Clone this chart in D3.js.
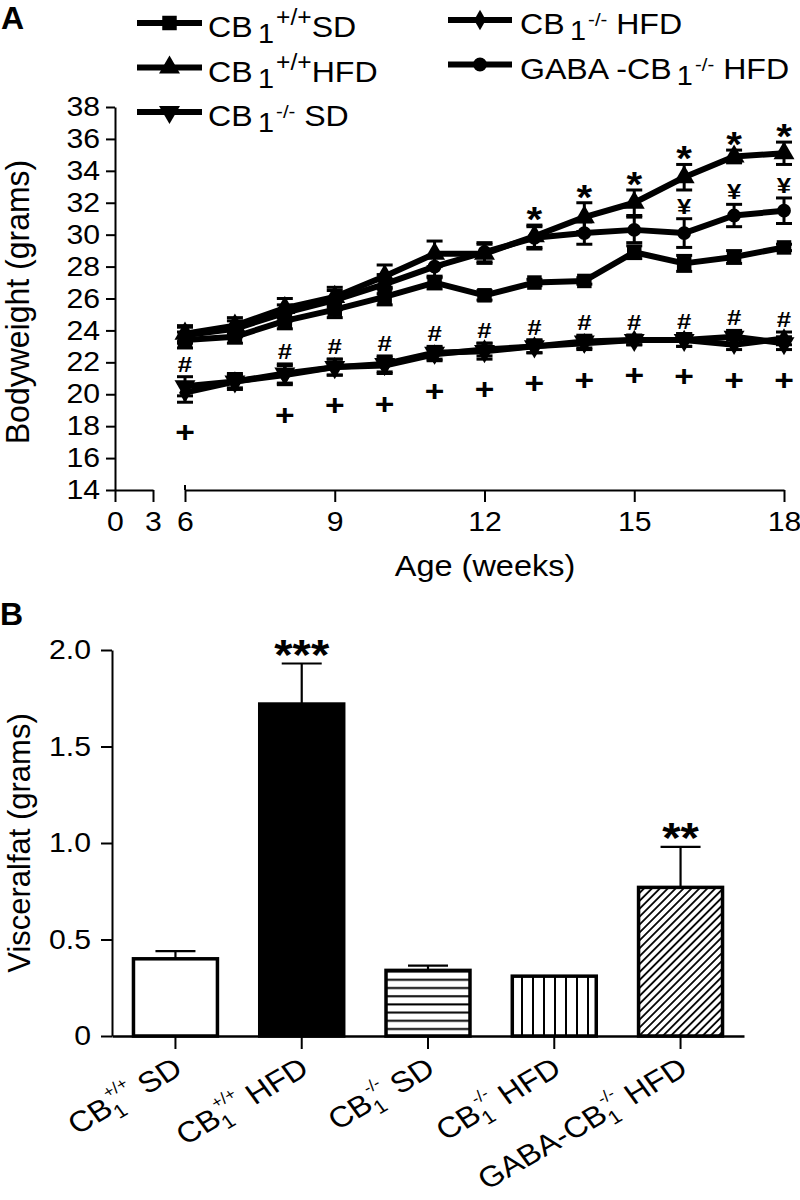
<!DOCTYPE html>
<html><head><meta charset="utf-8">
<script src="https://cdn.jsdelivr.net/npm/d3@7/dist/d3.min.js"></script>
<style>
html,body{margin:0;padding:0;background:#fff;}
svg text{font-family:Arial,"Liberation Sans",Helvetica,sans-serif;fill:#000;}
</style></head><body>
<svg id="chart" width="800" height="1200"></svg>
<script>
// ---------------- Panel A data ----------------
const weeks = [6,7,8,9,10,11,12,13,14,15,16,17,18];
const breakTicks = [0,3];
const mainTicks = [6,9,12,15,18];
const bodyTicks = [14,16,18,20,22,24,26,28,30,32,34,36,38];

const wtSD      = [23.4,23.6,24.6,25.3,26.1,27.0,26.2,27.0,27.1,28.9,28.2,28.6,29.2];
const wtSDErr   = [0.5,0.4,0.5,0.5,0.5,0.4,0.3,0.2,0.2,0.4,0.5,0.4,0.2];
const wtHFD     = [23.8,24.3,25.4,26.1,27.4,28.8,28.8,29.9,31.1,32.0,33.6,34.9,35.1];
const wtHFDErr  = [0.5,0.5,0.6,0.6,0.7,0.8,0.6,0.7,0.9,0.8,0.8,0.4,0.7];
const koSD      = [20.5,20.8,21.3,21.7,21.9,22.6,22.7,23.0,23.3,23.4,23.4,23.6,23.2];
const koSDErr   = [0.6,0.5,0.6,0.5,0.5,0.4,0.5,0.4,0.4,0.3,0.4,0.4,0.4];
const koHFD     = [20.1,20.8,21.2,21.7,21.8,22.5,22.8,23.0,23.2,23.4,23.4,23.1,23.5];
const koHFDErr  = [0.6,0.4,0.6,0.5,0.5,0.4,0.4,0.4,0.4,0.3,0.4,0.3,0.4];
const gabaHFD   = [23.7,24.1,25.1,25.9,26.9,28.0,28.9,29.8,30.1,30.3,30.1,31.2,31.5];
const gabaHFDErr= [0.5,0.5,0.5,0.6,0.6,0.7,0.6,0.7,0.7,0.8,0.9,0.7,0.8];

const seriesPre  = ["CB","CB","CB","CB","GABA -CB"];
const seriesSup  = ["+/+","+/+","-/-","-/-","-/-"];
const seriesPost = ["SD","HFD"," SD"," HFD"," HFD"];

const starWeeks = [13,14,15,16,17,18];           // *
const yenWeeks  = [16,17,18];                    // ¥
const hashWeeks = [6,8,9,10,11,12,13,14,15,16,17,18]; // #
const plusWeeks = [6,8,9,10,11,12,13,14,15,16,17,18]; // +

// ---------------- Panel B data ----------------
const fatPre   = ["CB","CB","CB","CB","GABA-CB"];
const fatSup   = ["+/+","+/+","-/-","-/-","-/-"];
const fatPost  = [" SD"," HFD"," SD"," HFD"," HFD"];
const fatValues= [0.40,1.72,0.34,0.31,0.77];
const fatErr   = [0.04,0.21,0.025,0.0,0.21];
const fatSig   = ["","***","","","**"];
const fatTicks = [0,0.5,1.0,1.5,2.0];
const fatTickLabels = ["0","0.5","1.0","1.5","2.0"];

// ---------------- drawing ----------------
const SX = 1.12;   // horizontal stretch of the original figure's text
const SXL = 1.07;  // legend stretch
const svg = d3.select("#chart");
const defs = svg.append("defs");

// ===== Panel A =====
const gA = svg.append("g");
const yA = d3.scaleLinear().domain([14,38]).range([490,107]);
const xA = d3.scaleLinear().domain([6,18]).range([185,784]);
const xA0 = d3.scaleLinear().domain([0,3]).range([115,153]);

function styleAxis(g, fs){
  g.select(".domain").attr("stroke","#000").attr("stroke-width",2);
  g.selectAll(".tick line").attr("stroke","#000").attr("stroke-width",2);
  g.selectAll("text").attr("font-size",fs).attr("fill","#000");
}

const yAxA = gA.append("g").attr("transform","translate(115,0)")
  .call(d3.axisLeft(yA).tickValues(bodyTicks).tickSizeInner(9).tickSizeOuter(0).tickPadding(6));
styleAxis(yAxA, 27);
yAxA.selectAll("text").each(function(){
  const x = +this.getAttribute("x");
  d3.select(this).attr("x", x/SX).attr("transform",`scale(${SX},1)`);
});

const fmtInt = d3.format("d");
const xAx0 = gA.append("g").attr("transform","translate(0,490)")
  .call(d3.axisBottom(xA0).tickValues(breakTicks).tickFormat(fmtInt).tickSizeInner(12).tickSizeOuter(0).tickPadding(10));
styleAxis(xAx0, 27);
const xAx1 = gA.append("g").attr("transform","translate(0,490)")
  .call(d3.axisBottom(xA).tickValues(mainTicks).tickFormat(fmtInt).tickSizeInner(12).tickSizeOuter(0).tickPadding(10));
styleAxis(xAx1, 27);
[xAx0,xAx1].forEach(g=>g.selectAll("text").attr("transform",`scale(${SX},1)`));
gA.append("line").attr("x1",xA(6)).attr("x2",xA(6)).attr("y1",485).attr("y2",490).attr("stroke","#000").attr("stroke-width",2);

// axis titles
gA.append("text").attr("transform",`translate(485,576) scale(${SX},1)`)
  .attr("text-anchor","middle").attr("font-size",29).text("Age (weeks)");
gA.append("text").attr("transform",`translate(29,302) rotate(-90) scale(1,1.03)`)
  .attr("text-anchor","middle").attr("font-size",32).text("Bodyweight (grams)");
gA.append("text").attr("x",1).attr("y",29).attr("font-size",32).attr("font-weight","bold").text("A");

const seriesVals = [wtSD, wtHFD, koSD, koHFD, gabaHFD];
const seriesErrs = [wtSDErr, wtHFDErr, koSDErr, koHFDErr, gabaHFDErr];
const markerDefs = [
  {type:d3.symbolSquare, size:210, rot:0},
  {type:d3.symbolTriangle, size:190, rot:0},
  {type:d3.symbolTriangle, size:190, rot:180},
  {type:d3.symbolDiamond, size:120, rot:0},
  {type:d3.symbolCircle, size:150, rot:0}
];

const line = d3.line().x((d,i)=>xA(weeks[i])).y(d=>yA(d));
seriesVals.forEach((vals,s)=>{
  const errs = seriesErrs[s];
  const g = gA.append("g");
  vals.forEach((v,i)=>{
    const x = xA(weeks[i]);
    g.append("line").attr("x1",x).attr("x2",x).attr("y1",yA(v-errs[i])).attr("y2",yA(v+errs[i]))
      .attr("stroke","#000").attr("stroke-width",3);
    [v-errs[i], v+errs[i]].forEach(e=>{
      g.append("line").attr("x1",x-8).attr("x2",x+8).attr("y1",yA(e)).attr("y2",yA(e))
        .attr("stroke","#000").attr("stroke-width",3);
    });
  });
  g.append("path").datum(vals).attr("d",line).attr("fill","none")
    .attr("stroke","#000").attr("stroke-width",6).attr("stroke-linejoin","round");
  const m = markerDefs[s];
  vals.forEach((v,i)=>{
    g.append("path").attr("d",d3.symbol(m.type,m.size)())
      .attr("transform",`translate(${xA(weeks[i])},${yA(v)}) rotate(${m.rot})`)
      .attr("fill","#000");
  });
});

// significance marks
const annot = gA.append("g");
starWeeks.forEach(w=>{
  const i = weeks.indexOf(w);
  annot.append("text").attr("transform",`translate(${xA(w)},${yA(wtHFD[i]+wtHFDErr[i])+6}) scale(${SX},1)`)
    .attr("text-anchor","middle").attr("font-size",36).attr("font-weight","bold").text("*");
});
yenWeeks.forEach(w=>{
  const i = weeks.indexOf(w);
  annot.append("text").attr("transform",`translate(${xA(w)},${yA(gabaHFD[i]+gabaHFDErr[i])-5}) scale(${SX},1)`)
    .attr("text-anchor","middle").attr("font-size",23).attr("font-weight","bold").text("¥");
});
hashWeeks.forEach(w=>{
  const i = weeks.indexOf(w);
  const top = Math.min(yA(koSD[i]+koSDErr[i]), yA(koHFD[i]+koHFDErr[i]));
  annot.append("text").attr("transform",`translate(${xA(w)},${top-5}) scale(${SX},1)`)
    .attr("text-anchor","middle").attr("font-size",23).attr("font-weight","bold").text("#");
});
plusWeeks.forEach(w=>{
  const i = weeks.indexOf(w);
  const bot = Math.max(yA(koSD[i]-koSDErr[i]), yA(koHFD[i]-koHFDErr[i]));
  annot.append("text").attr("transform",`translate(${xA(w)},${bot+40}) scale(${SX},1)`)
    .attr("text-anchor","middle").attr("font-size",30).attr("font-weight","bold").text("+");
});

// legend
const legendCols = [{x0:137,x1:202,tx:208,y0:23},{x0:448,x1:512,tx:520,y0:20}];
seriesPre.forEach((pre,s)=>{
  const col = s<3 ? legendCols[0] : legendCols[1];
  const row = s<3 ? s : s-3;
  const ly = col.y0 + row*44.5;
  const g = gA.append("g");
  g.append("line").attr("x1",col.x0).attr("x2",col.x1).attr("y1",ly).attr("y2",ly)
    .attr("stroke","#000").attr("stroke-width",6);
  const m = markerDefs[s];
  g.append("path").attr("d",d3.symbol(m.type,m.size)())
    .attr("transform",`translate(${(col.x0+col.x1)/2},${ly}) rotate(${m.rot})`).attr("fill","#000");
  const t = g.append("text").attr("transform",`translate(${col.tx},${ly+14}) scale(${SXL},1)`).attr("font-size",30);
  t.append("tspan").text(pre);
  t.append("tspan").attr("dx",5).attr("dy",6).attr("font-size",27).text("1");
  const isMinus = seriesSup[s]==="-/-";
  t.append("tspan").attr("dx",2).attr("dy",isMinus?-14:-18).attr("font-size",isMinus?19:23).text(seriesSup[s]);
  t.append("tspan").attr("dy",isMinus?8:12).text(seriesPost[s]);
});

// ===== Panel B =====
const gB = svg.append("g");
const yB = d3.scaleLinear().domain([0,2]).range([1036,650]);
const xB = d3.scaleBand().domain(d3.range(fatValues.length)).range([112,744]).paddingInner(0.335).paddingOuter(0.17);

// patterns
const pH = defs.append("pattern").attr("id","hatchH").attr("patternUnits","userSpaceOnUse").attr("width",10).attr("height",8.2);
pH.append("rect").attr("width",10).attr("height",8.2).attr("fill","#fff");
pH.append("line").attr("x1",0).attr("x2",10).attr("y1",4).attr("y2",4).attr("stroke","#000").attr("stroke-width",2);
const pV = defs.append("pattern").attr("id","hatchV").attr("patternUnits","userSpaceOnUse").attr("width",11).attr("height",10);
pV.append("rect").attr("width",11).attr("height",10).attr("fill","#fff");
pV.append("line").attr("x1",5).attr("x2",5).attr("y1",0).attr("y2",10).attr("stroke","#000").attr("stroke-width",2);
const pD = defs.append("pattern").attr("id","hatchD").attr("patternUnits","userSpaceOnUse").attr("width",5.6).attr("height",10)
  .attr("patternTransform","rotate(45)");
pD.append("rect").attr("width",5.6).attr("height",10).attr("fill","#fff");
pD.append("line").attr("x1",2.8).attr("x2",2.8).attr("y1",0).attr("y2",10).attr("stroke","#000").attr("stroke-width",1.8);
const barFills = ["#fff","#000","url(#hatchH)","url(#hatchV)","url(#hatchD)"];

const yAxB = gB.append("g").attr("transform","translate(112,0)")
  .call(d3.axisLeft(yB).tickValues(fatTicks).tickFormat((d,i)=>fatTickLabels[i]).tickSizeInner(11).tickSizeOuter(0).tickPadding(10));
styleAxis(yAxB, 27);
yAxB.selectAll("text").each(function(){
  const x = +this.getAttribute("x");
  d3.select(this).attr("x", x/SX).attr("transform",`scale(${SX},1)`);
});

fatValues.forEach((v,i)=>{
  gB.append("rect").attr("x",xB(i)).attr("y",yB(v)).attr("width",xB.bandwidth()).attr("height",yB(0)-yB(v))
    .attr("fill",barFills[i]).attr("stroke","#000").attr("stroke-width",3.5);
  const cx = xB(i)+xB.bandwidth()/2;
  if (fatErr[i]>0){
    gB.append("line").attr("x1",cx).attr("x2",cx).attr("y1",yB(v)).attr("y2",yB(v+fatErr[i])).attr("stroke","#000").attr("stroke-width",2.2);
    gB.append("line").attr("x1",cx-20).attr("x2",cx+20).attr("y1",yB(v+fatErr[i])).attr("y2",yB(v+fatErr[i])).attr("stroke","#000").attr("stroke-width",2.2);
  }
  if (fatSig[i]){
    gB.append("text").attr("transform",`translate(${cx},${yB(v+fatErr[i])+5}) scale(${SX},1)`)
      .attr("text-anchor","middle").attr("font-size",42).attr("font-weight","bold").text(fatSig[i]);
  }
});

const xAxB = gB.append("g").attr("transform","translate(0,1036)")
  .call(d3.axisBottom(xB).tickFormat("").tickSizeInner(13).tickSizeOuter(0));
styleAxis(xAxB, 27);
xAxB.select(".domain").attr("stroke-width",2.5);

// rotated category labels
fatPre.forEach((pre,i)=>{
  const cx = xB(i)+xB.bandwidth()/2;
  const t = gB.append("text").attr("transform",`translate(${cx+9},${1073}) scale(${SX},1) rotate(-33)`)
    .attr("text-anchor","end").attr("font-size",29);
  t.append("tspan").text(pre);
  t.append("tspan").attr("dy",7).attr("font-size",19).text("1");
  t.append("tspan").attr("dx",-8).attr("dy",-23).attr("font-size",16).text(fatSup[i]);
  t.append("tspan").attr("dy",16).text(fatPost[i]);
});

gB.append("text").attr("transform",`translate(30,843) rotate(-90) scale(1,1.03)`)
  .attr("text-anchor","middle").attr("font-size",31).text("Visceralfat (grams)");
gB.append("text").attr("x",0).attr("y",625).attr("font-size",32).attr("font-weight","bold").text("B");
</script>
</body></html>
